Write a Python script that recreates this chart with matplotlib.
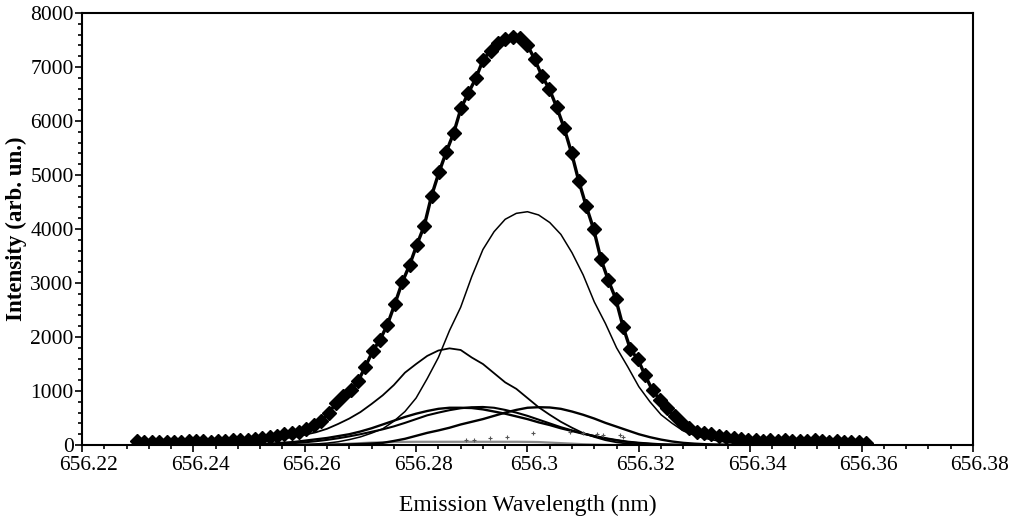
import numpy as np
import matplotlib

matplotlib.use("Agg")
import matplotlib.pyplot as plt
from matplotlib.ticker import MultipleLocator, FuncFormatter
from matplotlib.transforms import ScaledTranslation

# measured profile: 100 points, uniform wavelength grid
wl_start, wl_stop, n_pts = 656.2299, 656.3608, 100
intensity = [
    80, 60, 55, 60, 50, 65, 60, 75, 70, 80,
    65, 75, 80, 90, 85, 100, 110, 130, 150, 175,
    200, 215, 250, 300, 370, 440, 590, 770, 900, 1010,
    1180, 1450, 1740, 1950, 2230, 2610, 3010, 3330, 3710, 4060,
    4620, 5050, 5430, 5780, 6240, 6520, 6790, 7134, 7300, 7450,
    7520, 7560, 7540, 7410, 7140, 6830, 6590, 6250, 5870, 5410,
    4880, 4420, 4000, 3440, 3050, 2710, 2190, 1770, 1590, 1290,
    1010, 840, 680, 530, 410, 315, 250, 220, 195, 175,
    155, 135, 120, 100, 90, 80, 95, 75, 85, 70,
    80, 75, 85, 70, 60, 75, 65, 55, 60, 40,
]

# fitted components on a 0.002 nm grid from 656.250 to 656.346
comp_start, comp_step, n_comp = 656.250, 0.002, 49
comp_big = [
    0, 0, 0, 2, 5, 10, 20, 35, 60, 100,
    150, 220, 300, 440, 620, 870, 1230, 1620, 2120, 2550,
    3120, 3620, 3950, 4180, 4290, 4320, 4260, 4120, 3900, 3560,
    3150, 2650, 2250, 1800, 1450, 1080, 800, 560, 400, 260,
    180, 120, 80, 50, 30, 15, 8, 3, 0,
]
comp_mid = [
    40, 60, 85, 115, 150, 190, 235, 300, 390, 490,
    610, 760, 920, 1110, 1340, 1500, 1650, 1750, 1790, 1760,
    1620, 1500, 1330, 1160, 1040, 870, 700, 560, 430, 320,
    220, 150, 90, 50, 25, 10, 5, 0, 0, 0,
    0, 0, 0, 0, 0, 0, 0, 0, 0,
]
comp_a = [
    10, 15, 25, 40, 55, 80, 105, 130, 165, 200,
    250, 310, 380, 450, 520, 580, 630, 670, 690, 690,
    685, 660, 620, 580, 530, 480, 420, 370, 310, 260,
    210, 165, 125, 90, 60, 40, 25, 12, 5, 0,
    0, 0, 0, 0, 0, 0, 0, 0, 0,
]
comp_b = [
    5, 10, 15, 25, 35, 50, 70, 95, 125, 160,
    200, 245, 290, 345, 410, 480, 550, 600, 645, 680,
    700, 705, 690, 650, 600, 540, 470, 400, 330, 270,
    215, 165, 120, 85, 55, 35, 20, 10, 5, 0,
    0, 0, 0, 0, 0, 0, 0, 0, 0,
]
comp_c = [
    0, 0, 0, 0, 0, 2, 3, 5, 8, 12,
    18, 28, 40, 75, 115, 170, 225, 270, 320, 380,
    430, 480, 540, 600, 650, 690, 700, 695, 670, 620,
    560, 490, 410, 340, 270, 200, 145, 100, 65, 40,
    25, 15, 8, 4, 0, 0, 0, 0, 0,
]
comp_low = [
    0, 0, 0, 0, 0, 0, 0, 5, 15, 25,
    35, 45, 50, 55, 58, 60, 60, 60, 60, 60,
    60, 60, 60, 60, 60, 58, 55, 45, 35, 25,
    15, 8, 3, 0, 0, 0, 0, 0, 0, 0,
    0, 0, 0, 0, 0, 0, 0, 0, 0,
]

# scattered residual specks
speck_wl = [656.2890, 656.2904, 656.2933, 656.2963, 656.3010, 656.3076,
            656.3100, 656.3125, 656.3136, 656.3166, 656.3171]
speck_val = [90, 100, 130, 150, 220, 240, 220, 200, 185, 185, 150]

wl = np.linspace(wl_start, wl_stop, n_pts)
comp_wl = comp_start + comp_step * np.arange(n_comp)

plt.rcParams["font.family"] = ["Liberation Serif", "DejaVu Serif"]

fig = plt.figure(figsize=(10.17, 5.32), dpi=100, facecolor="white")
ax = fig.add_axes([0.0806, 0.1635, 0.8761, 0.8121])

ax.plot(comp_wl, comp_low, color="#8a8a8a", linewidth=1.6, zorder=2)
ax.plot(comp_wl, comp_big, color="black", linewidth=1.1, zorder=3)
ax.plot(comp_wl, comp_mid, color="black", linewidth=1.3, zorder=3)
ax.plot(comp_wl, comp_a, color="black", linewidth=1.7, zorder=3)
ax.plot(comp_wl, comp_b, color="black", linewidth=1.5, zorder=3)
ax.plot(comp_wl, comp_c, color="black", linewidth=1.7, zorder=3)
ax.plot(speck_wl, speck_val, linestyle="none", marker="+", markersize=3,
        color="#555555", markeredgewidth=0.8, zorder=3)

ax.plot(wl, intensity, color="black", linewidth=2.4, marker="D",
        markersize=7.2, markerfacecolor="black", markeredgecolor="black", zorder=4)

ax.set_xlim(656.22, 656.38)
ax.set_ylim(0, 8000)
ax.xaxis.set_major_locator(MultipleLocator(0.02))
ax.xaxis.set_minor_locator(MultipleLocator(0.004))
ax.yaxis.set_major_locator(MultipleLocator(1000))
ax.yaxis.set_minor_locator(MultipleLocator(200))
ax.xaxis.set_major_formatter(FuncFormatter(lambda v, p: f"{v:g}"))
ax.yaxis.set_major_formatter(FuncFormatter(lambda v, p: f"{v:.0f}"))

ax.tick_params(which="both", direction="out", top=False, right=False,
               colors="black", labelsize=15.5, width=1.2)
ax.tick_params(which="major", length=5)
ax.tick_params(which="minor", length=3)
ax.tick_params(axis="x", which="major", pad=3)
ax.tick_params(axis="y", which="major", pad=1)
for spine in ax.spines.values():
    spine.set_linewidth(1.5)
    spine.set_color("black")

# x tick labels sit a little right of their ticks in the original
shift = ScaledTranslation(7 / 100, 0, fig.dpi_scale_trans)
for label in ax.get_xticklabels():
    label.set_transform(label.get_transform() + shift)

ax.set_xlabel("Emission Wavelength (nm)", fontsize=17, labelpad=14)
ax.set_ylabel("Intensity (arb. un.)", fontsize=16.5, fontweight="bold", labelpad=2)

fig.savefig("out.png", dpi=100, facecolor="white")
